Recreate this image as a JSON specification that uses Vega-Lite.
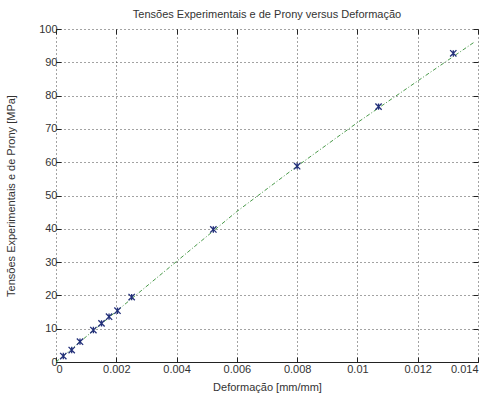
{
  "$schema": "https://vega.github.io/schema/vega-lite/v6.json",
  "width": 422,
  "height": 333,
  "autosize": {"type": "none"},
  "padding": {"left": 56, "top": 29, "right": 16, "bottom": 36},
  "background": "white",
  "title": {"text": "Tensões Experimentais e de Prony versus Deformação", "fontSize": 11, "fontWeight": "normal", "font": "Liberation Sans", "color": "#333", "offset": 3},
  "config": {
    "view": {"stroke": null},
    "axis": {"labelFont": "Liberation Sans", "titleFont": "Liberation Sans", "labelFontSize": 11, "titleFontSize": 11, "titleFontWeight": "normal", "labelColor": "#333", "titleColor": "#333", "tickColor": "#222", "domainColor": "#222"}
  },
  "datasets": {
    "experimental": [
      {"deformacao": 0.000242, "tensao": 1.8},
      {"deformacao": 0.000521, "tensao": 3.6},
      {"deformacao": 0.000796, "tensao": 6.1},
      {"deformacao": 0.00124, "tensao": 9.6},
      {"deformacao": 0.00151, "tensao": 11.6},
      {"deformacao": 0.00176, "tensao": 13.6},
      {"deformacao": 0.00204, "tensao": 15.4},
      {"deformacao": 0.00251, "tensao": 19.5},
      {"deformacao": 0.00522, "tensao": 39.8},
      {"deformacao": 0.0080, "tensao": 58.8},
      {"deformacao": 0.0107, "tensao": 76.7},
      {"deformacao": 0.01318, "tensao": 92.7}
    ],
    "prony": [
      {"deformacao": 0, "tensao": 0},
      {"deformacao": 0.002, "tensao": 15.2},
      {"deformacao": 0.004, "tensao": 30.2},
      {"deformacao": 0.006, "tensao": 45.2},
      {"deformacao": 0.008, "tensao": 58.8},
      {"deformacao": 0.010, "tensao": 71.9},
      {"deformacao": 0.012, "tensao": 84.4},
      {"deformacao": 0.0139, "tensao": 96.2}
    ]
  },
  "layer": [
    {
      "data": {"name": "prony"},
      "mark": {"type": "line", "color": "#4a9a4a", "strokeWidth": 1, "strokeDash": [4, 2, 1, 2]},
      "encoding": {
        "x": {"field": "deformacao", "type": "quantitative", "scale": {"domain": [0, 0.014], "nice": false},
          "axis": {"title": "Deformação [mm/mm]", "values": [0, 0.002, 0.004, 0.006, 0.008, 0.01, 0.012, 0.014], "format": "~g", "grid": true, "gridDash": [1, 3], "gridColor": "#333", "gridOpacity": 0.9, "tickSize": -5, "labelPadding": 6, "titlePadding": 7, "domain": true}},
        "y": {"field": "tensao", "type": "quantitative", "scale": {"domain": [0, 100], "nice": false},
          "axis": {"title": "Tensões Experimentais e de Prony [MPa]", "values": [0, 10, 20, 30, 40, 50, 60, 70, 80, 90, 100], "grid": true, "gridDash": [1, 3], "gridColor": "#333", "gridOpacity": 0.9, "tickSize": -5, "labelPadding": 4, "titlePadding": 22, "domain": false}}
      }
    },
    {
      "data": {"name": "experimental"},
      "mark": {"type": "point", "shape": "M-1,-1L1,1M-1,1L1,-1M0,-1L0,1", "filled": false, "color": "#23307a", "strokeWidth": 1.3, "size": 40, "opacity": 1},
      "encoding": {
        "x": {"field": "deformacao", "type": "quantitative",
          "axis": {"orient": "top", "values": [0, 0.002, 0.004, 0.006, 0.008, 0.01, 0.012, 0.014], "labels": false, "title": null, "grid": false, "domain": false, "tickSize": -5}},
        "y": {"field": "tensao", "type": "quantitative",
          "axis": {"orient": "right", "values": [0, 10, 20, 30, 40, 50, 60, 70, 80, 90, 100], "labels": false, "title": null, "grid": false, "domain": false, "tickSize": -5}}
      }
    }
  ],
  "resolve": {"axis": {"x": "independent", "y": "independent"}}
}
